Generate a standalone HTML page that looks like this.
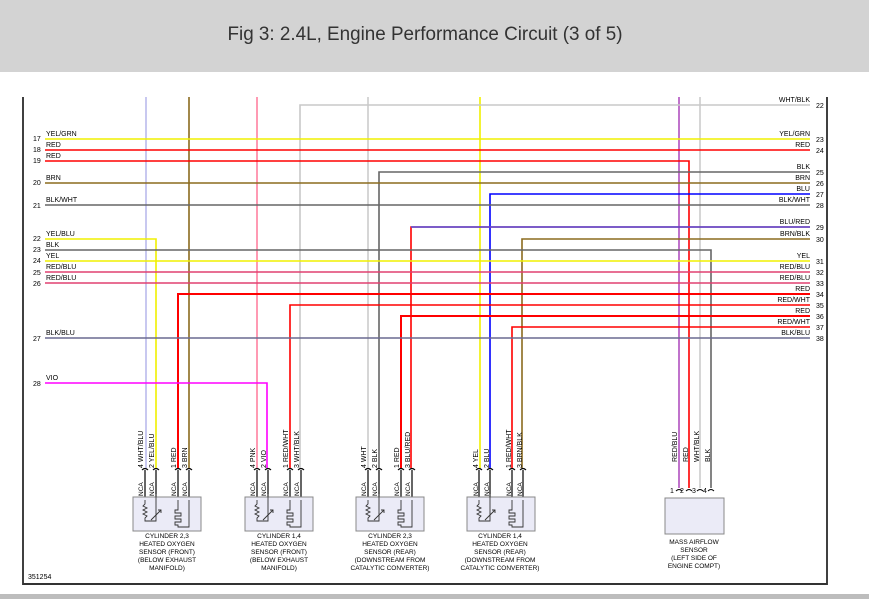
<!DOCTYPE html>
<html><head><meta charset="utf-8"><style>
html,body{margin:0;padding:0;background:#fff;}
svg{display:block;}
text{font-family:"Liberation Sans",sans-serif;}
</style></head><body>
<svg width="869" height="599" viewBox="0 0 869 599" xmlns="http://www.w3.org/2000/svg">
<rect x="0" y="0" width="869" height="72" fill="#d3d3d3"/>
<text x="425" y="40" font-size="19" fill="#333" text-anchor="middle" textLength="395" lengthAdjust="spacingAndGlyphs">Fig 3: 2.4L, Engine Performance Circuit (3 of 5)</text>
<rect x="0" y="594" width="869" height="5" fill="#bdbdbd"/>
<!-- frame -->
<line x1="23" y1="97" x2="23" y2="585" stroke="#000" stroke-width="1.5"/>
<line x1="827" y1="97" x2="827" y2="585" stroke="#000" stroke-width="1.5"/>
<line x1="23" y1="584" x2="827" y2="584" stroke="#333" stroke-width="2"/>

<g fill="none" stroke-width="1.6">
<!-- verticals from top -->
<line x1="146" y1="97" x2="146" y2="468" stroke="#c8c8f0" stroke-width="2"/>
<line x1="189" y1="97" x2="189" y2="468" stroke="#8b6b1e"/>
<line x1="257" y1="97" x2="257" y2="468" stroke="#ff80a0"/>
<line x1="368" y1="97" x2="368" y2="468" stroke="#ccc"/>
<line x1="480" y1="97" x2="480" y2="468" stroke="#f0f000"/>
<line x1="679" y1="97" x2="679" y2="488" stroke="#b050c0"/>
<line x1="700" y1="97" x2="700" y2="488" stroke="#ccc"/>
<!-- horizontals -->
<polyline points="810,105 300,105 300,468" stroke="#c8c8c8"/>
<line x1="45" y1="139" x2="810" y2="139" stroke="#f0f000"/>
<line x1="45" y1="150" x2="810" y2="150" stroke="#f00"/>
<polyline points="45,161 689,161 689,488" stroke="#f00"/>
<polyline points="810,172 379,172 379,468" stroke="#666"/>
<line x1="45" y1="183" x2="810" y2="183" stroke="#8b6b1e"/>
<polyline points="810,194 490,194 490,468" stroke="#00f"/>
<line x1="45" y1="205" x2="810" y2="205" stroke="#666"/>
<polyline points="810,227 411,227 411,468" stroke="#f00"/>
<line x1="411" y1="227" x2="810" y2="227" stroke="#5050e0"/>
<polyline points="810,239 522,239 522,468" stroke="#8b6b1e"/>
<polyline points="45,239 156,239 156,468" stroke="#f0f000"/>
<polyline points="45,250 711,250 711,488" stroke="#666"/>
<line x1="45" y1="261" x2="810" y2="261" stroke="#f0f000"/>
<line x1="45" y1="272" x2="810" y2="272" stroke="#e04070"/>
<line x1="45" y1="283" x2="810" y2="283" stroke="#e04070"/>
<polyline points="810,294 178,294 178,468" stroke="#f00" stroke-width="2"/>
<polyline points="810,305 290,305 290,468" stroke="#f00"/>
<polyline points="810,316 401,316 401,468" stroke="#f00" stroke-width="2"/>
<polyline points="810,327 512,327 512,468" stroke="#f00"/>
<line x1="45" y1="338" x2="810" y2="338" stroke="#6a6a90"/>
<polyline points="45,383 267,383 267,468" stroke="#ff00ff"/>
</g>

<g font-size="7" fill="#000">
<text x="46" y="136">YEL/GRN</text><text x="33" y="141">17</text>
<text x="46" y="147">RED</text><text x="33" y="152">18</text>
<text x="46" y="158">RED</text><text x="33" y="163">19</text>
<text x="46" y="180">BRN</text><text x="33" y="185">20</text>
<text x="46" y="202">BLK/WHT</text><text x="33" y="208">21</text>
<text x="46" y="236">YEL/BLU</text><text x="33" y="241">22</text>
<text x="46" y="247">BLK</text><text x="33" y="252">23</text>
<text x="46" y="258">YEL</text><text x="33" y="263">24</text>
<text x="46" y="269">RED/BLU</text><text x="33" y="275">25</text>
<text x="46" y="280">RED/BLU</text><text x="33" y="286">26</text>
<text x="46" y="335">BLK/BLU</text><text x="33" y="341">27</text>
<text x="46" y="380">VIO</text><text x="33" y="386">28</text>
<g text-anchor="end">
<text x="810" y="102">WHT/BLK</text>
<text x="810" y="136">YEL/GRN</text>
<text x="810" y="147">RED</text>
<text x="810" y="169">BLK</text>
<text x="810" y="180">BRN</text>
<text x="810" y="191">BLU</text>
<text x="810" y="202">BLK/WHT</text>
<text x="810" y="224">BLU/RED</text>
<text x="810" y="236">BRN/BLK</text>
<text x="810" y="258">YEL</text>
<text x="810" y="269">RED/BLU</text>
<text x="810" y="280">RED/BLU</text>
<text x="810" y="291">RED</text>
<text x="810" y="302">RED/WHT</text>
<text x="810" y="313">RED</text>
<text x="810" y="324">RED/WHT</text>
<text x="810" y="335">BLK/BLU</text>
</g>
<text x="816" y="108">22</text><text x="816" y="142">23</text><text x="816" y="153">24</text>
<text x="816" y="175">25</text><text x="816" y="186">26</text><text x="816" y="197">27</text>
<text x="816" y="208">28</text><text x="816" y="230">29</text><text x="816" y="242">30</text>
<text x="816" y="264">31</text><text x="816" y="275">32</text><text x="816" y="286">33</text>
<text x="816" y="297">34</text><text x="816" y="308">35</text><text x="816" y="319">36</text>
<text x="816" y="330">37</text><text x="816" y="341">38</text>
<text x="28" y="579">351254</text>
</g>

<!-- sensors -->
<g id="s1">
<g stroke="#000" stroke-width="1.2" fill="none">
<path d="M142,470 q3,-3 6,0 M153,470 q3,-3 6,0 M175,470 q3,-3 6,0 M186,470 q3,-3 6,0"/>
<line x1="145" y1="470" x2="145" y2="505"/><line x1="156" y1="470" x2="156" y2="527"/>
<line x1="178" y1="470" x2="178" y2="510"/><line x1="189" y1="470" x2="189" y2="525"/>
</g>
<rect x="133" y="497" width="68" height="34" fill="#ebebf7" stroke="#888"/>
<g stroke="#333" stroke-width="0.9" fill="none">
<path d="M145,500 v4 l-2,2 l4,2 l-4,2 l4,2 l-4,2 l4,2 l-2,2 v3 h11 v-27"/>
<path d="M151,520 l10,-10 M158,510 h3 v3"/>
<path d="M178,500 v10 h-3 v3 h6 v3 h-6 v3 h6 v3 h-6 v3 h3 v2 h11 v-27"/>
</g>
</g>
<use href="#s1" x="112"/>
<use href="#s1" x="223"/>
<use href="#s1" x="334"/>

<g font-size="7" fill="#000">
<g transform="translate(143,468) rotate(-90)"><text>4 WHT/BLU</text></g>
<g transform="translate(154,468) rotate(-90)"><text>2 YEL/BLU</text></g>
<g transform="translate(176,468) rotate(-90)"><text>1 RED</text></g>
<g transform="translate(187,468) rotate(-90)"><text>3 BRN</text></g>
<g transform="translate(255,468) rotate(-90)"><text>4 PNK</text></g>
<g transform="translate(266,468) rotate(-90)"><text>2 VIO</text></g>
<g transform="translate(288,468) rotate(-90)"><text>1 RED/WHT</text></g>
<g transform="translate(299,468) rotate(-90)"><text>3 WHT/BLK</text></g>
<g transform="translate(366,468) rotate(-90)"><text>4 WHT</text></g>
<g transform="translate(377,468) rotate(-90)"><text>2 BLK</text></g>
<g transform="translate(399,468) rotate(-90)"><text>1 RED</text></g>
<g transform="translate(410,468) rotate(-90)"><text>3 BLU/RED</text></g>
<g transform="translate(478,468) rotate(-90)"><text>4 YEL</text></g>
<g transform="translate(489,468) rotate(-90)"><text>2 BLU</text></g>
<g transform="translate(511,468) rotate(-90)"><text>1 RED/WHT</text></g>
<g transform="translate(522,468) rotate(-90)"><text>3 BRN/BLK</text></g>
<g transform="translate(677,462) rotate(-90)"><text>RED/BLU</text></g>
<g transform="translate(688,462) rotate(-90)"><text>RED</text></g>
<g transform="translate(699,462) rotate(-90)"><text>WHT/BLK</text></g>
<g transform="translate(710,462) rotate(-90)"><text>BLK</text></g>
<g font-size="6.5">
<g transform="translate(143,496) rotate(-90)"><text>NCA</text></g>
<g transform="translate(154,496) rotate(-90)"><text>NCA</text></g>
<g transform="translate(176,496) rotate(-90)"><text>NCA</text></g>
<g transform="translate(187,496) rotate(-90)"><text>NCA</text></g>
<g transform="translate(255,496) rotate(-90)"><text>NCA</text></g>
<g transform="translate(266,496) rotate(-90)"><text>NCA</text></g>
<g transform="translate(288,496) rotate(-90)"><text>NCA</text></g>
<g transform="translate(299,496) rotate(-90)"><text>NCA</text></g>
<g transform="translate(366,496) rotate(-90)"><text>NCA</text></g>
<g transform="translate(377,496) rotate(-90)"><text>NCA</text></g>
<g transform="translate(399,496) rotate(-90)"><text>NCA</text></g>
<g transform="translate(410,496) rotate(-90)"><text>NCA</text></g>
<g transform="translate(478,496) rotate(-90)"><text>NCA</text></g>
<g transform="translate(489,496) rotate(-90)"><text>NCA</text></g>
<g transform="translate(511,496) rotate(-90)"><text>NCA</text></g>
<g transform="translate(522,496) rotate(-90)"><text>NCA</text></g>
</g>
</g>

<!-- MAF -->
<g stroke="#000" stroke-width="1" fill="none">
<path d="M676,491 q3,-3 6,0 M686,491 q3,-3 6,0 M697,491 q3,-3 6,0 M708,491 q3,-3 6,0"/>
</g>
<g font-size="7"><text x="670" y="493">1</text><text x="680" y="493">2</text><text x="692" y="493">3</text><text x="703" y="493">4</text></g>
<rect x="665" y="498" width="59" height="36" fill="#ebebf7" stroke="#888"/>

<g font-size="6.5" fill="#000" text-anchor="middle">
<text x="167" y="538">CYLINDER 2,3</text><text x="167" y="546">HEATED OXYGEN</text><text x="167" y="554">SENSOR (FRONT)</text><text x="167" y="562">(BELOW EXHAUST</text><text x="167" y="570">MANIFOLD)</text>
<text x="279" y="538">CYLINDER 1,4</text><text x="279" y="546">HEATED OXYGEN</text><text x="279" y="554">SENSOR (FRONT)</text><text x="279" y="562">(BELOW EXHAUST</text><text x="279" y="570">MANIFOLD)</text>
<text x="390" y="538">CYLINDER 2,3</text><text x="390" y="546">HEATED OXYGEN</text><text x="390" y="554">SENSOR (REAR)</text><text x="390" y="562">(DOWNSTREAM FROM</text><text x="390" y="570">CATALYTIC CONVERTER)</text>
<text x="500" y="538">CYLINDER 1,4</text><text x="500" y="546">HEATED OXYGEN</text><text x="500" y="554">SENSOR (REAR)</text><text x="500" y="562">(DOWNSTREAM FROM</text><text x="500" y="570">CATALYTIC CONVERTER)</text>
<text x="694" y="544">MASS AIRFLOW</text><text x="694" y="552">SENSOR</text><text x="694" y="560">(LEFT SIDE OF</text><text x="694" y="568">ENGINE COMPT)</text>
</g>
</svg>
</body></html>
